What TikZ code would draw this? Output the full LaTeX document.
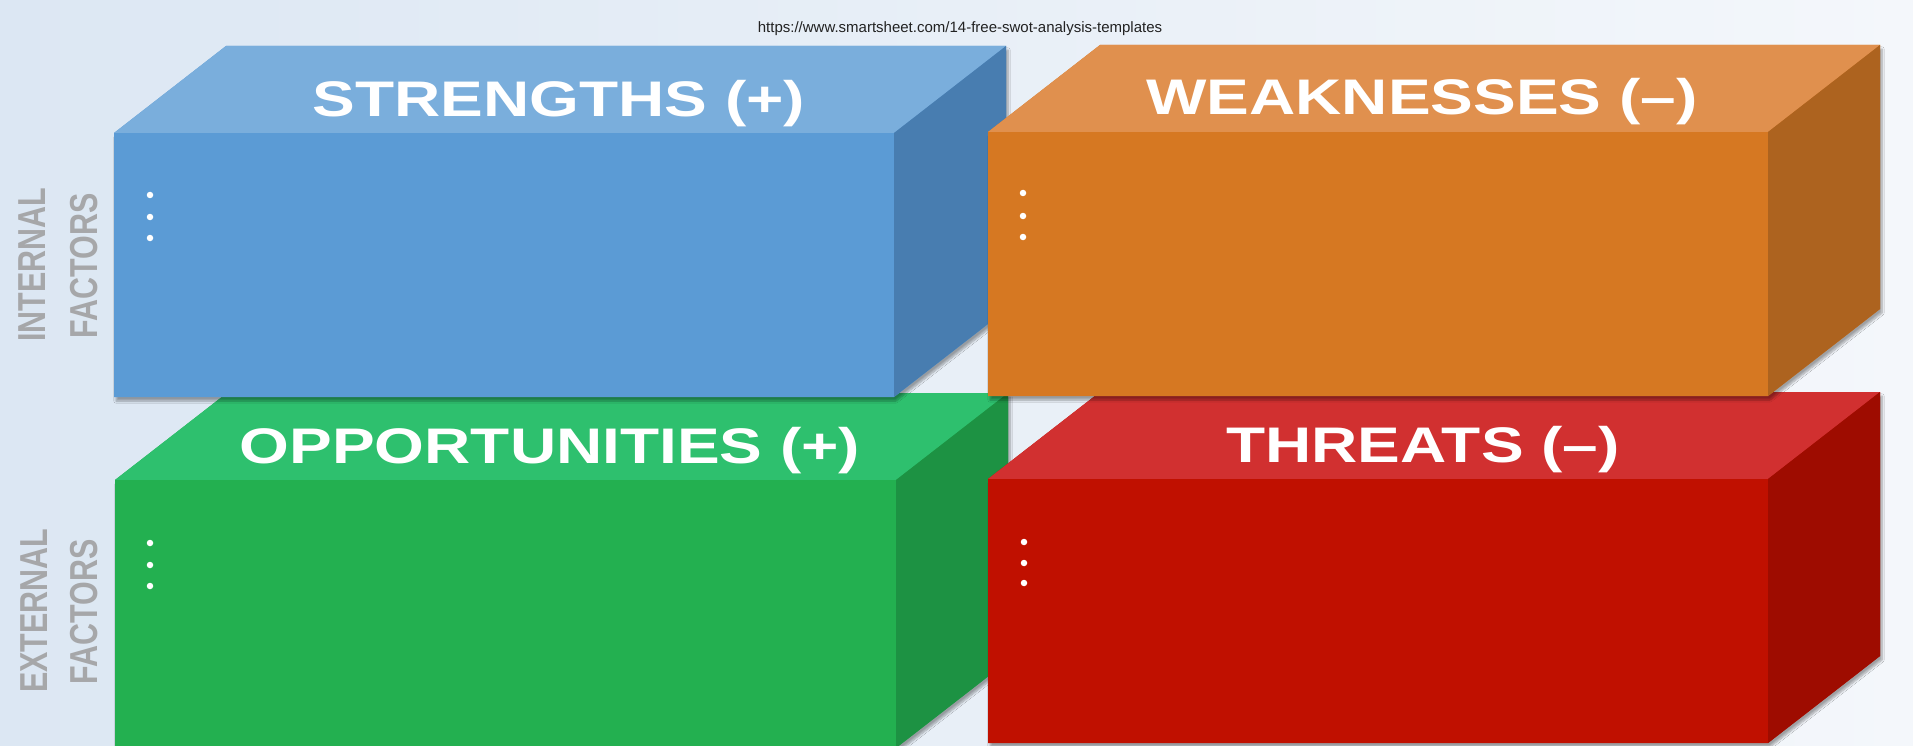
\documentclass[tikz,border=0pt]{standalone}
\usepackage{fontspec}
\setmainfont{Liberation Sans}
\newfontfamily\titlefont[FakeStretch=1.28]{Liberation Sans}
\newfontfamily\sidefont[FakeStretch=0.78]{Liberation Sans}
\usetikzlibrary{shadows.blur}
\definecolor{bgL}{HTML}{DCE7F3}
\definecolor{bgR}{HTML}{F4F7FB}
\definecolor{bfront}{HTML}{5B9BD5}
\definecolor{btop}{HTML}{7AAEDC}
\definecolor{bside}{HTML}{487DB0}
\definecolor{ofront}{HTML}{D67822}
\definecolor{otop}{HTML}{E0904E}
\definecolor{oside}{HTML}{AD631F}
\definecolor{gfront}{HTML}{23B050}
\definecolor{gtop}{HTML}{2EC06E}
\definecolor{gside}{HTML}{1D9243}
\definecolor{rfront}{HTML}{C01000}
\definecolor{rtop}{HTML}{D13030}
\definecolor{rside}{HTML}{9E0C00}
\definecolor{labelgray}{HTML}{A6A7A9}
\definecolor{urlgray}{HTML}{222222}
% #1,#2 = front top-left; #3,#4 = front bottom-right; #5 = colour prefix
\newcommand{\swotcube}[5]{%
  \fill[#5front, blur shadow={shadow xshift=2pt, shadow yshift=-4pt, shadow blur steps=8, shadow opacity=35}]
    (#1,#2) -- (#1+112,#2-87) -- (#3+112,#2-87) -- (#3+112,#4-87) -- (#3,#4) -- (#1,#4) -- cycle;
  \fill[#5top] (#1,#2) -- (#1+112,#2-87) -- (#3+112,#2-87) -- (#3,#2) -- cycle;
  \fill[#5side] (#3,#2) -- (#3+112,#2-87) -- (#3+112,#4-87) -- (#3,#4) -- cycle;
  \fill[#5front] (#1,#2) rectangle (#3,#4);
}
\begin{document}
\begin{tikzpicture}[x=1pt,y=-1pt,
  title/.style={font=\titlefont\bfseries\fontsize{50}{60}\selectfont, text=white, anchor=base, inner sep=0pt},
  sidelabel/.style={font=\sidefont\bfseries\fontsize{39}{45}\selectfont, text=labelgray, rotate=90, anchor=base, inner sep=0pt},
  bulletdot/.style={circle, fill=white, inner sep=0pt, minimum size=6.5pt},
  urltext/.style={font=\fontsize{15}{18}\selectfont, text=urlgray, anchor=base, inner sep=0pt}]
\useasboundingbox (0,0) rectangle (1913,746);
\shade[left color=bgL, right color=bgR] (0,0) rectangle (1913,746);
\node[urltext] (url) at (960,33) {https://www.smartsheet.com/14-free-swot-analysis-templates};

% lower row
\swotcube{115}{480}{896}{748}{g}
\swotcube{988}{479}{1768}{743}{r}
% upper row
\swotcube{114}{133}{894}{397}{b}
\swotcube{988}{132}{1768}{396}{o}

% titles
\node[title] (tS) at (559,117) {STRENGTHS (+)};
\node[title] (tW) at (1422,115) {WEAKNESSES (–)};
\node[title] (tO) at (550,463) {OPPORTUNITIES (+)};
\node[title] (tT) at (1423,462) {THREATS (–)};

% bullets
\node[bulletdot] (s1) at (150,195) {};
\node[bulletdot] (s2) at (150,217) {};
\node[bulletdot] (s3) at (150,238) {};
\node[bulletdot] (w1) at (1023,193) {};
\node[bulletdot] (w2) at (1023,216) {};
\node[bulletdot] (w3) at (1023,237) {};
\node[bulletdot] (o1) at (150,543) {};
\node[bulletdot] (o2) at (150,565) {};
\node[bulletdot] (o3) at (150,586) {};
\node[bulletdot] (r1) at (1024,542) {};
\node[bulletdot] (r2) at (1024,563) {};
\node[bulletdot] (r3) at (1024,583) {};

% side labels
\node[sidelabel] (int1) at (45,265) {INTERNAL};
\node[sidelabel] (int2) at (97,266) {FACTORS};
\node[sidelabel] (ext1) at (47,611) {EXTERNAL};
\node[sidelabel] (ext2) at (97,612) {FACTORS};
\end{tikzpicture}
\end{document}
